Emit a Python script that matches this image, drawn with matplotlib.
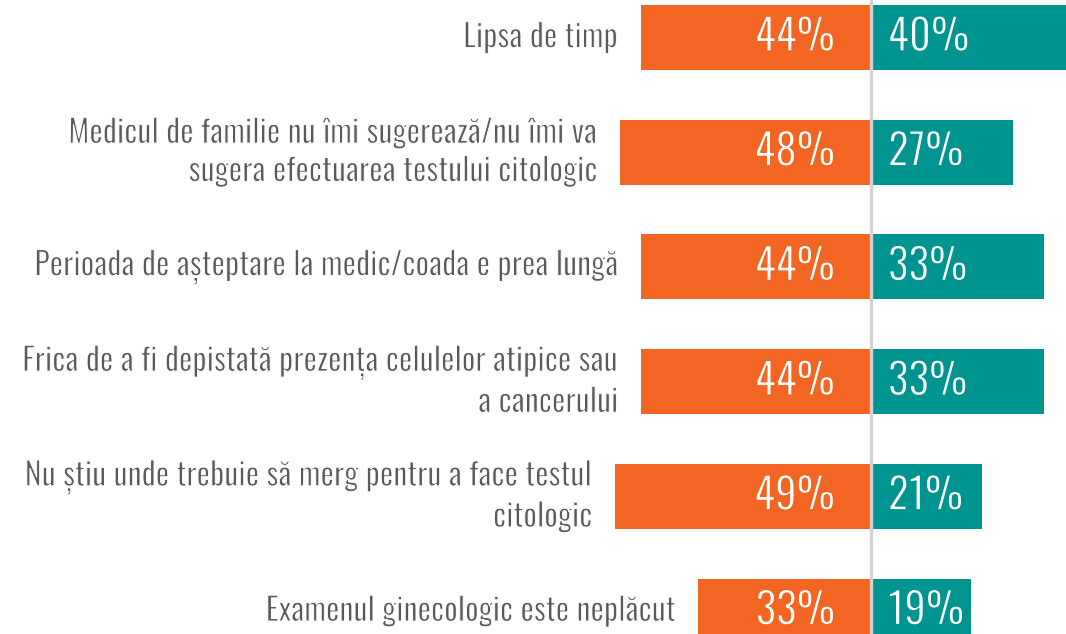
import matplotlib
matplotlib.use("Agg")
import matplotlib.pyplot as plt
import matplotlib.patheffects as pe
from matplotlib.transforms import offset_copy

plt.rcParams['font.family'] = ['Oswald', 'Roboto Condensed', 'DejaVu Sans']

categories = [
    "Lipsa de timp",
    "Medicul de familie nu îmi sugerează/nu îmi va\nsugera efectuarea testului citologic",
    "Perioada de așteptare la medic/coada e prea lungă",
    "Frica de a fi depistată prezența celulelor atipice sau\na cancerului",
    "Nu știu unde trebuie să merg pentru a face testul\ncitologic",
    "Examenul ginecologic este neplăcut",
]
left_values = [44, 48, 44, 44, 49, 33]
right_values = [40, 27, 33, 33, 21, 19]

ORANGE = "#F26522"
TEAL = "#009490"
TEXT = "#5a5a5a"

W, H = 1066, 634
fig = plt.figure(figsize=(W / 100, H / 100), dpi=100)
ax = fig.add_axes([0, 0, 1, 1])

px_per_unit = 5.2
center_px = 871
ax.set_xlim(-center_px / px_per_unit, (W - center_px) / px_per_unit)
ax.set_ylim(5.2, -0.327)

ys = list(range(len(categories)))
bar_h = 0.567
ax.barh(ys, [-v for v in left_values], height=bar_h, color=ORANGE, left=-0.25)
ax.barh(ys, right_values, height=bar_h, color=TEAL, left=0.25)
ax.axvline(0, color="#d3d3d3", lw=2.4, zorder=5)


def thin(bg, lw):
    # erode glyph edges with the background colour to mimic a light weight
    return [pe.Stroke(linewidth=lw, foreground=bg)]


for y, lv, rv, cat in zip(ys, left_values, right_values, categories):
    tr_l = offset_copy(ax.transData, fig=fig, x=-36, y=0, units='dots')
    ax.text(0, y, f"{lv}%", transform=tr_l, ha="right", va="center",
            color="white", fontsize=31, path_effects=thin(ORANGE, 1.0))
    tr_r = offset_copy(ax.transData, fig=fig, x=17, y=0, units='dots')
    ax.text(0, y, f"{rv}%", transform=tr_r, ha="left", va="center",
            color="white", fontsize=31, path_effects=thin(TEAL, 1.0))
    tr_c = offset_copy(ax.transData, fig=fig, x=-24, y=0, units='dots')
    ax.text(-lv, y, cat, transform=tr_c, ha="right", va="center",
            color=TEXT, fontsize=23, multialignment="right",
            linespacing=1.24, path_effects=thin("white", 0.7))

ax.axis("off")
fig.savefig("out.png", dpi=100)
